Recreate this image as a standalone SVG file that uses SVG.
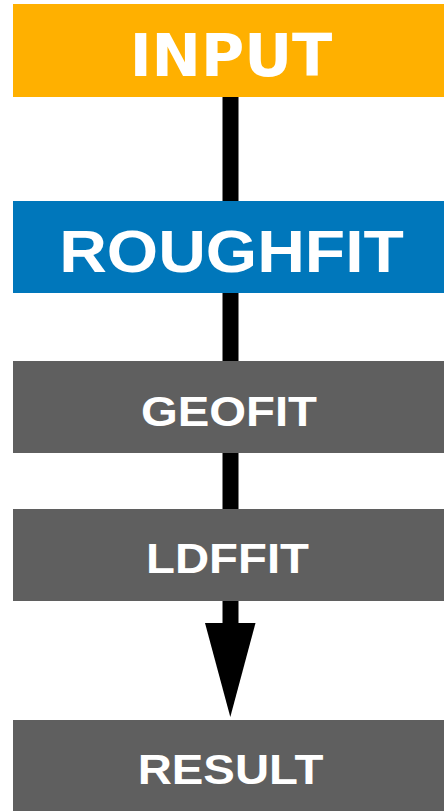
<svg xmlns="http://www.w3.org/2000/svg" width="444" height="811" viewBox="0 0 444 811">
<style>
.box{stroke:none}
.lbl{fill:#FFFFFF;font-family:"Liberation Sans",Arial,sans-serif;font-weight:bold;text-anchor:middle}
.conn{stroke:#000000;stroke-width:16;fill:none}
</style>
<rect width="444" height="811" fill="#FFFFFF"/>
<g id="connectors">
<line class="conn" x1="230.5" y1="96" x2="230.5" y2="202"/>
<line class="conn" x1="230.5" y1="292" x2="230.5" y2="362"/>
<line class="conn" x1="230.5" y1="452" x2="230.5" y2="510"/>
<line class="conn" x1="230.5" y1="600" x2="230.5" y2="624"/>
<polygon points="205,623 255.5,623 230.3,717" fill="#000000"/>
</g>
<g id="input">
<rect class="box" x="13" y="4" width="431" height="93" fill="#FFB000"/>
<text x="231" y="76" class="lbl" style="font-family:'DejaVu Sans',sans-serif;font-size:59px">INPUT</text>
</g>
<g id="roughfit">
<rect class="box" x="13" y="201" width="431" height="92" fill="#0077BB"/>
<text transform="translate(231.5,272) scale(1.1,1)" class="lbl" style="font-size:60px">ROUGHFIT</text>
</g>
<g id="geofit">
<rect class="box" x="13" y="361" width="431" height="92" fill="#5F5F5F"/>
<text transform="translate(229,426) scale(1.1,1)" class="lbl" style="font-size:43px">GEOFIT</text>
</g>
<g id="ldffit">
<rect class="box" x="13" y="509" width="431" height="92" fill="#5F5F5F"/>
<text transform="translate(227.5,573) scale(1.1,1)" class="lbl" style="font-size:43px">LDFFIT</text>
</g>
<g id="result">
<rect class="box" x="13" y="720" width="431" height="91" fill="#5F5F5F"/>
<text transform="translate(230.5,784) scale(1.1,1)" class="lbl" style="font-size:43px">RESULT</text>
</g>
</svg>
